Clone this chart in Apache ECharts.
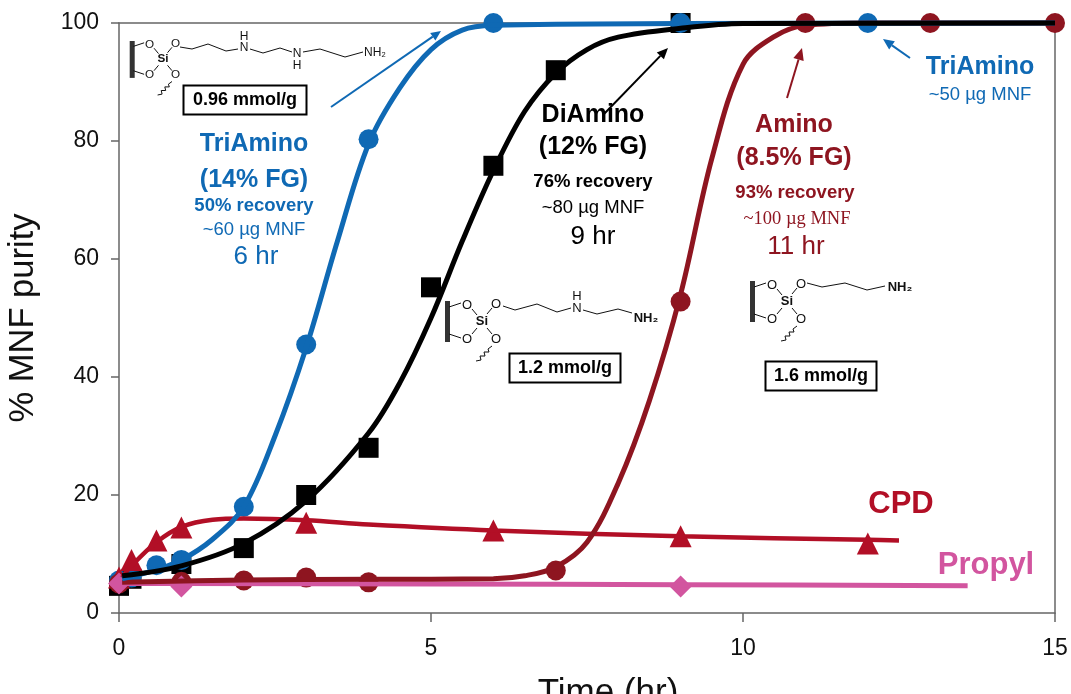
<!DOCTYPE html>
<html><head><meta charset="utf-8">
<style>html,body{margin:0;padding:0;background:#fff}#c{width:1071px;height:694px;filter:blur(.45px)}</style>
<script src="https://cdn.jsdelivr.net/npm/echarts@6/dist/echarts.min.js"></script></head>
<body><div id="c"></div>
<script>
// Fitted curves [time, purity]
const triCurve=[[0.05,5.8],[0.5,7],[1,9],[1.5,12.5],[2,18],[2.5,30],[3,45],[3.5,63],[4,79.5],[4.5,89],[5,95.5],[5.5,98.8],[6,99.6],[9,99.9],[15,100]];
const diCurve=[[0.05,6.3],[1,8],[2,11.8],[3,19],[4,30.5],[4.5,39],[5,50],[5.5,63],[6,75],[6.5,85],[7,91.5],[7.5,95.5],[8,97.6],[9,99.1],[10,99.9],[15,100]];
const aminoCurve=[[0.05,5.2],[2,5.6],[4,5.7],[6,5.8],[6.5,6.3],[7,7.8],[7.5,12],[8,22],[8.5,36],[9,54],[9.5,77],[10,93],[10.5,97.7],[11,99.6],[12,100],[15,100]];
const cpdCurve=[[0.05,6],[0.2,8],[0.6,12],[1,14.6],[1.5,15.8],[2,16],[3,15.7],[4,15],[6,14],[9,13],[12,12.4],[12.5,12.3]];
const propylCurve=[[0.05,5],[1,5],[5,4.9],[9,4.8],[13.6,4.6]];
// Measured points
const triPts=[[0,5.5],[0.2,6],[0.6,8.1],[1,9],[2,18],[3,45.5],[4,80.3],[6,100],[9,100],[12,100]];
const diPts=[[0,4.6],[0.2,5.8],[1,8.3],[2,11],[3,20],[4,28],[5,55.2],[6,75.8],[7,92],[9,100]];
const aminoPts=[[0,5],[1,5.3],[2,5.5],[3,6],[4,5.2],[7,7.2],[9,52.8],[11,100],[13,100],[15,100]];
const cpdPts=[[0,6],[0.2,9],[0.6,12.3],[1,14.5],[3,15.3],[6,14],[9,13],[12,11.8]];
const propylPts=[[0,5],[1,4.5],[9,4.5]];
const BLUE='#0f69b4',BLACK='#000',MAROON='#8e1520',RED='#b20f26',PINK='#d2559f',AXIS='#666';
const F='"Liberation Sans",Arial,sans-serif';
const curve=(name,data,color,w,z)=>({name,type:'line',data,smooth:0.35,showSymbol:false,symbol:'none',lineStyle:{color,width:w,cap:'butt'},z,clip:false,silent:true});
const pts=(name,data,color,symbol,size,z)=>({name,type:'scatter',data,symbol,symbolSize:size,itemStyle:{color,opacity:1},z,clip:false,silent:true});
const T=(x,y,text,fill,size,weight,family)=>({type:'text',x,y,z:50,style:{text,fill,font:`${weight||'normal'} ${size}px ${family||F}`,textAlign:'center',textVerticalAlign:'middle'}});
const L=(pts,stroke,w)=>({type:'polyline',z:40,shape:{points:pts},style:{stroke,lineWidth:w,fill:null}});
function arrow(x1,y1,x2,y2,c,w,size){
  const a=Math.atan2(y2-y1,x2-x1),s=size||11,bx=x2-s*Math.cos(a),by=y2-s*Math.sin(a),nx=-Math.sin(a)*s*.45,ny=Math.cos(a)*s*.45;
  return [L([[x1,y1],[bx,by]],c,w),{type:'polygon',z:41,shape:{points:[[x2,y2],[bx+nx,by+ny],[bx-nx,by-ny]]},style:{fill:c}}];
}
function box(cx,cy,w,h,text){
  return [{type:'rect',z:45,shape:{x:cx-w/2,y:cy-h/2,width:w,height:h},style:{fill:'#fff',stroke:'#000',lineWidth:2}},
    T(cx,cy,text,'#000',18,'bold')];
}
// silica anchor around the Si atom at (sx,sy)
function anchor(sx,sy,s){
  const f=o=>[sx+o[0]*s,sy+o[1]*s],out=[];
  out.push({type:'rect',z:40,shape:{x:sx-37*s,y:sy-20*s,width:5,height:41*s},style:{fill:'#333'}});
  [[[-33,-14],[-21,-18]],[[-33,13],[-21,17]],[[-10,-12],[-5,-6]],[[-10,13],[-5,7]],[[5,-7],[10,-13]],[[5,7],[10,13]]].forEach(p=>out.push(L(p.map(f),'#111',1)));
  out.push(L([[10,25],[6,28],[7,31],[2,31],[3,35],[-2,35],[-1,39],[-6,40]].map(f),'#111',1));
  [[-15,-16,'O'],[-15,18,'O'],[14,-17,'O'],[14,18,'O'],[0,0,'Si']].forEach(o=>out.push(T(sx+o[0]*s,sy+o[1]*s,o[2],'#111',13*s,o[2]=='Si'?'bold':'normal')));
  return out;
}
const graphic=[
  ...anchor(163,59,0.9),
  L([[180,47],[192,49],[208,44],[226,51],[238,49]],'#111',1),L([[250,49],[263,53],[280,48],[292,52]],'#111',1),L([[303,52],[320,49],[345,57],[363,52]],'#111',1),
  T(244,48,'N','#111',12),T(244,37,'H','#111',12),T(297,54,'N','#111',12),T(297,66,'H','#111',12),T(375,53,'NH₂','#111',12),
  ...anchor(482,321,1),
  L([[503,306],[515,310],[537,304],[557,312],[571,308]],'#111',1),L([[583,310],[597,314],[618,309],[632,313]],'#111',1),
  T(577,308,'N','#111',13),T(577,296,'H','#111',13),T(646,318,'NH₂','#111',13,'bold'),
  ...anchor(787,301,1),
  L([[807,283],[822,287],[845,283],[867,290],[885,286]],'#111',1),
  T(900,287,'NH₂','#111',13,'bold'),
  ...box(245,100,123,29,'0.96 mmol/g'),
  ...box(565,368,111,29,'1.2 mmol/g'),
  ...box(821,376,111,29,'1.6 mmol/g'),
  ...arrow(331,107,441,31,BLUE,2,10),
  ...arrow(604,114,668,48,BLACK,2,11),
  ...arrow(787,98,802,48,MAROON,2,12),
  ...arrow(910,58,883,39,BLUE,2,11),
  T(254,144,'TriAmino',BLUE,25,'bold'),T(254,180,'(14% FG)',BLUE,25,'bold'),
  T(254,206,'50% recovery',BLUE,18.5,'bold'),T(254,230,'~60 µg MNF',BLUE,18.5),T(256,257,'6 hr',BLUE,26),
  T(593,115,'DiAmino','#000',25,'bold'),T(593,147,'(12% FG)','#000',25,'bold'),
  T(593,182,'76% recovery','#000',18.5,'bold'),T(593,208,'~80 µg MNF','#000',18.5),T(593,237,'9 hr','#000',26),
  T(794,125,'Amino',MAROON,25,'bold'),T(794,158,'(8.5% FG)',MAROON,25,'bold'),
  T(795,193,'93% recovery',MAROON,18.5,'bold'),T(797,219,'~100 µg MNF',MAROON,18.5,'normal','"Liberation Serif",serif'),T(796,247,'11 hr',MAROON,26),
  T(980,67,'TriAmino',BLUE,25,'bold'),T(980,95,'~50 µg MNF',BLUE,18.5),
  T(901,504,'CPD',RED,31,'bold'),T(986,565,'Propyl',PINK,31,'bold')
];
const line={onZero:false,lineStyle:{color:AXIS,width:1.5}};
const chart=echarts.init(document.getElementById('c'),null,{renderer:'canvas'});
chart.setOption({
  animation:false,backgroundColor:'#fff',
  grid:{left:119,top:23,width:936,height:590,containLabel:false,outerBoundsMode:'none'},
  xAxis:[{type:'value',min:0,max:15,interval:5,position:'bottom',name:'Time (hr)',nameLocation:'middle',nameGap:63,
    nameTextStyle:{fontFamily:F,fontSize:35,color:'#111',padding:[0,0,0,42]},
    axisLine:line,axisTick:{length:9,lineStyle:{color:AXIS,width:1.5}},
    axisLabel:{fontFamily:F,fontSize:23,color:'#111',margin:24},splitLine:{show:false}},
   {type:'value',min:0,max:15,position:'top',axisLine:line,axisTick:{show:false},axisLabel:{show:false},splitLine:{show:false}}],
  yAxis:[{type:'value',min:0,max:100,interval:20,name:'% MNF purity',nameLocation:'middle',nameGap:78,nameRotate:90,
    nameTextStyle:{fontFamily:F,fontSize:34.5,color:'#111'},
    axisLine:line,axisTick:{length:8,lineStyle:{color:AXIS,width:1.5}},
    axisLabel:{fontFamily:F,fontSize:23,color:'#111',margin:20},splitLine:{show:false}},
   {type:'value',min:0,max:100,position:'right',axisLine:line,axisTick:{show:false},axisLabel:{show:false},splitLine:{show:false}}],
  series:[
    pts('DiAmino',diPts,BLACK,'rect',20,2),pts('TriAmino',triPts,BLUE,'circle',20,3),
    pts('CPD',cpdPts,RED,'triangle',22,4),pts('Amino',aminoPts,MAROON,'circle',20,5),pts('Propyl',propylPts,PINK,'diamond',22,6),
    curve('Propyl fit',propylCurve,PINK,5,7),curve('CPD fit',cpdCurve,RED,4.5,8),
    curve('Amino fit',aminoCurve,MAROON,5,9),curve('TriAmino fit',triCurve,BLUE,5,10),curve('DiAmino fit',diCurve,BLACK,5,11)
  ],
  graphic:graphic
});
</script></body></html>
